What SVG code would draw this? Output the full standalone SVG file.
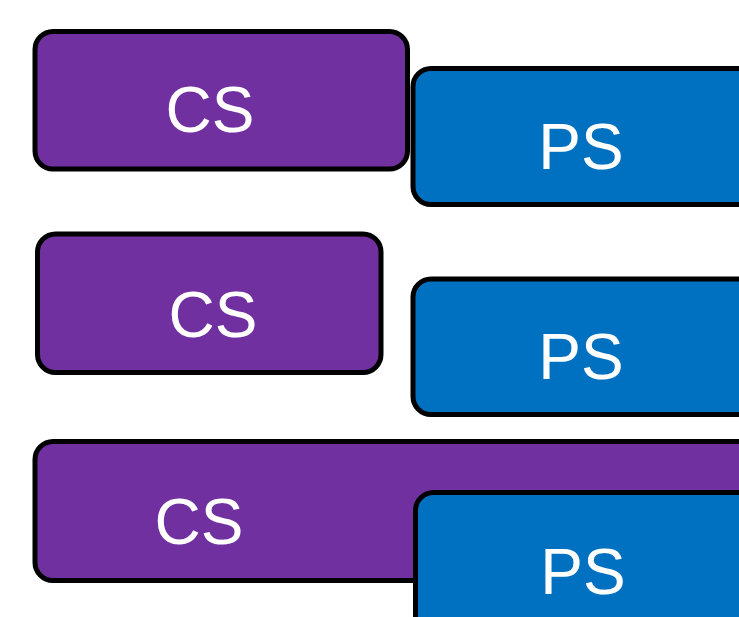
<svg xmlns="http://www.w3.org/2000/svg" width="739" height="617" viewBox="0 0 739 617">
<style>
.box{stroke:#000;stroke-width:5}
.cs{fill:#7030A0}
.ps{fill:#0070C0}
.lbl{font-family:"Liberation Sans",Arial,sans-serif;font-size:64px;fill:#fff;text-anchor:middle}
</style>
<rect width="739" height="617" fill="#fff"/>
<g id="cs1"><rect class="box cs" x="35" y="31.5" width="372.5" height="137.5" rx="18"/><text class="lbl" x="210" y="132">CS</text></g>
<g id="ps1"><rect class="box ps" x="413" y="68.5" width="360" height="136" rx="18"/><text class="lbl" x="581" y="168.5">PS</text></g>
<g id="cs2"><rect class="box cs" x="37.5" y="234" width="343.5" height="138.5" rx="18"/><text class="lbl" x="213" y="337">CS</text></g>
<g id="ps2"><rect class="box ps" x="413" y="279" width="360" height="135.5" rx="18"/><text class="lbl" x="581" y="378.5">PS</text></g>
<g id="cs3"><rect class="box cs" x="35" y="441.5" width="740" height="139" rx="18"/><text class="lbl" x="199" y="543.5">CS</text></g>
<g id="ps3"><rect class="box ps" x="415.5" y="492.5" width="360" height="160" rx="18"/><text class="lbl" x="583" y="593.5">PS</text></g>
<g id="connectors"/>
</svg>
